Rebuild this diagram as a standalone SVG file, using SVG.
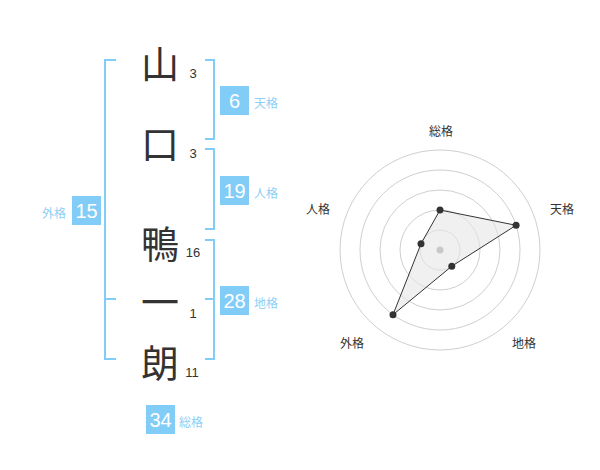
<svg xmlns="http://www.w3.org/2000/svg" width="600" height="470" viewBox="0 0 600 470">
<style>
.ch{font-family:"Noto Sans CJK JP","Noto Sans CJK SC",sans-serif;font-size:38px;font-weight:400;fill:#333;text-anchor:middle;dominant-baseline:central}
.num{font-family:"Liberation Sans",Arial,sans-serif;font-size:13px;fill:#333;text-anchor:middle}
.br{fill:none;stroke:#82cdf8;stroke-width:2}
.box{fill:#82cdf8}
.bt{font-family:"Liberation Sans",Arial,sans-serif;font-size:20px;fill:#fff;text-anchor:middle;dominant-baseline:central}
.lb{font-family:"Noto Sans CJK JP","Noto Sans CJK SC",sans-serif;font-size:12px;fill:#8dcff5;dominant-baseline:central}
.ring{fill:none;stroke:#cfcfcf;stroke-width:1}
.rl{font-family:"Noto Sans CJK JP","Noto Sans CJK SC",sans-serif;font-size:12px;fill:#333;text-anchor:middle;dominant-baseline:central}
.dot{fill:#333}
</style>
<g id="chars">
<text class="ch" x="160" y="61">山</text>
<text class="ch" x="160" y="141">口</text>
<text class="ch" x="160" y="241">鴨</text>
<text class="ch" x="160" y="299">一</text>
<text class="ch" x="160" y="360">朗</text>
<text class="num" x="193" y="78">3</text>
<text class="num" x="193" y="158">3</text>
<text class="num" x="193" y="257">16</text>
<text class="num" x="193" y="318">1</text>
<text class="num" x="192" y="377">11</text>
</g>
<g id="connectors">
<path class="br" d="M116,60 H105 V359 H116 M105,299 H116"/>
<path class="br" d="M205,60 H214 V139 H205"/>
<path class="br" d="M205,149 H214 V229 H205"/>
<path class="br" d="M205,240 H214 V359 H205 M214,299 H205"/>
</g>
<g id="tenkaku">
<rect class="box" x="220" y="86" width="29" height="29"/>
<text class="bt" x="234.5" y="101">6</text>
<text class="lb" x="254" y="102">天格</text>
</g>
<g id="jinkaku">
<rect class="box" x="220" y="176" width="29" height="29"/>
<text class="bt" x="234.5" y="191">19</text>
<text class="lb" x="254" y="192">人格</text>
</g>
<g id="chikaku">
<rect class="box" x="220" y="286" width="29" height="29"/>
<text class="bt" x="234.5" y="301">28</text>
<text class="lb" x="254" y="302">地格</text>
</g>
<g id="gaikaku">
<rect class="box" x="72" y="196" width="29" height="29"/>
<text class="bt" x="86.5" y="211">15</text>
<text class="lb" x="66" y="212" text-anchor="end">外格</text>
</g>
<g id="soukaku">
<rect class="box" x="146" y="405" width="29" height="29"/>
<text class="bt" x="160.5" y="420">34</text>
<text class="lb" x="179" y="421">総格</text>
</g>
<g id="radar">
<circle class="ring" cx="440" cy="250" r="100"/>
<circle class="ring" cx="440" cy="250" r="80"/>
<circle class="ring" cx="440" cy="250" r="60"/>
<circle class="ring" cx="440" cy="250" r="40"/>
<circle class="ring" cx="440" cy="250" r="20"/>
<polygon points="440,210 516.1,225.3 451.8,266.2 393,314.7 421,243.8" fill="#e6e6e6" fill-opacity="0.6" stroke="#333" stroke-width="1"/>
<circle cx="440" cy="250" r="3.5" fill="#c8c8c8"/>
<circle class="dot" cx="440" cy="210" r="3.5"/>
<circle class="dot" cx="516.1" cy="225.3" r="3.5"/>
<circle class="dot" cx="451.8" cy="266.2" r="3.5"/>
<circle class="dot" cx="393" cy="314.7" r="3.5"/>
<circle class="dot" cx="421" cy="243.8" r="3.5"/>
<text class="rl" x="441" y="130">総格</text>
<text class="rl" x="562" y="208">天格</text>
<text class="rl" x="524" y="342">地格</text>
<text class="rl" x="352" y="342">外格</text>
<text class="rl" x="318" y="208">人格</text>
</g>
</svg>
